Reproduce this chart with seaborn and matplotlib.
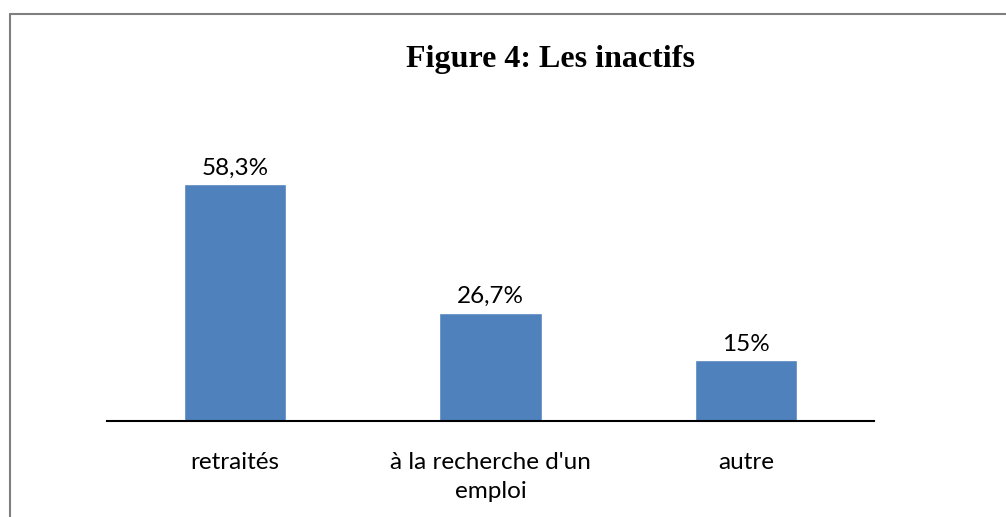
import matplotlib
matplotlib.use("Agg")
import matplotlib.pyplot as plt
import seaborn as sns
import pandas as pd
from matplotlib.lines import Line2D

# data
categories = ["retraités", "à la recherche d'un\nemploi", "autre"]
values = [58.3, 26.7, 15.0]
value_labels = ["58,3%", "26,7%", "15%"]

df = pd.DataFrame({"categorie": categories, "valeur": values})

sns.set_style("white")
plt.rcParams["font.family"] = ["Lato", "DejaVu Sans"]
plt.rcParams["text.color"] = "black"

fig = plt.figure(figsize=(10.06, 5.17), dpi=100)
ax = fig.add_axes([107 / 1006, 96 / 517, 767 / 1006, 284 / 517])

sns.barplot(data=df, x="categorie", y="valeur", color="#4F81BD",
            saturation=1, width=0.4, ax=ax)

ax.set_ylim(0, 70)
ax.set_xlim(-0.5, 2.5)
ax.set_xlabel("")
ax.set_ylabel("")
ax.set_yticks([])
ax.tick_params(axis="x", length=0, pad=22, labelsize=17.5, colors="black")
for lbl in ax.get_xticklabels():
    lbl.set_linespacing(1.5)
for s in ["top", "left", "right"]:
    ax.spines[s].set_visible(False)
ax.spines["bottom"].set_color("black")
ax.spines["bottom"].set_linewidth(1.5)

for i, (v, lab) in enumerate(zip(values, value_labels)):
    ax.annotate(lab, (i, v), xytext=(0, 4), textcoords="offset points",
                ha="center", va="bottom", fontsize=17.5, color="black")

fig.text(550 / 1006, 1 - 59 / 517, "Figure 4: Les inactifs", ha="center",
         va="center", fontsize=23, fontweight="bold", family="Liberation Serif",
         color="black")

# frame around the chart (top and left edges visible)
fig.add_artist(Line2D([10 / 1006, 10 / 1006], [0, 1 - 14 / 517],
                      transform=fig.transFigure, color="#7f7f7f", lw=1.5))
fig.add_artist(Line2D([10 / 1006, 1], [1 - 14 / 517, 1 - 14 / 517],
                      transform=fig.transFigure, color="#7f7f7f", lw=1.5))

fig.savefig("out.png", dpi=100)
